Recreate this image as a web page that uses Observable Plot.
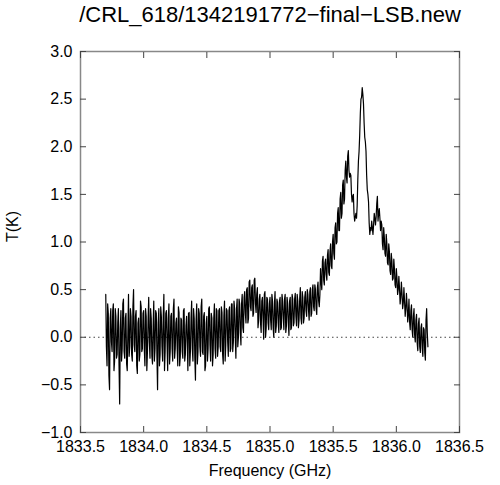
<!DOCTYPE html>
<html>
<head>
<meta charset="utf-8">
<script src="https://cdn.jsdelivr.net/npm/d3@7"></script>
<script src="https://cdn.jsdelivr.net/npm/@observablehq/plot@0.6"></script>
<style>
  html, body { margin: 0; padding: 0; background: #fff; }
</style>
</head>
<body>
<div id="chart"></div>
<script>
const title = "/CRL_618/1342191772\u2212final\u2212LSB.new";
const xLabel = "Frequency (GHz)";
const yLabel = "T(K)";
const xTicks = [1833.5, 1834.0, 1834.5, 1835.0, 1835.5, 1836.0, 1836.5];
const yTicks = [-1.0, -0.5, 0.0, 0.5, 1.0, 1.5, 2.0, 2.5, 3.0];

// spectral channels (GHz): main channels 0.01 GHz apart starting at freqStart,
// plus half-step channels in between
const freqStart = 1833.70;
const freqStep = 0.01;
// antenna temperature at the main channels (K)
const temps = [
  0.45, -0.30, 0.25, -0.55, 0.30, -0.15, 0.35, -0.25, 0.22, -0.18,
  0.30, -0.70, 0.28, -0.12, 0.40, -0.22, 0.25, -0.35, 0.45, -0.10,
  0.22, -0.25, 0.50, -0.15, 0.28, -0.38, 0.20, -0.18, 0.32, -0.12,
  0.28, -0.30, 0.22, -0.15, 0.42, -0.22, 0.20, -0.28, 0.38, -0.12,
  0.25, -0.55, 0.30, -0.18, 0.22, -0.25, 0.45, -0.15, 0.28, -0.35,
  0.35, -0.15, 0.25, -0.25, 0.40, -0.12, 0.20, -0.30, 0.26, -0.20,
  0.18, -0.22, 0.30, -0.18, 0.22, -0.35, 0.26, -0.15, 0.38, -0.25,
  0.20, -0.45, 0.35, -0.15, 0.25, -0.20, 0.40, -0.18, 0.26, -0.30,
  0.22, -0.12, 0.32, -0.25, 0.20, -0.18, 0.35, -0.22, 0.28, -0.10,
  0.30, -0.15, 0.26, -0.28, 0.38, -0.08, 0.28, -0.20, 0.32, -0.12,
  0.35, -0.05, 0.30, -0.22, 0.40, 0.00, 0.35, -0.08, 0.45, 0.05,
  0.48, 0.15, 0.52, 0.20, 0.60, 0.28, 0.55, 0.25, 0.62, 0.26,
  0.52, 0.18, 0.45, 0.05, 0.42, -0.02, 0.48, 0.10, 0.40, 0.08,
  0.42, 0.08, 0.38, 0.00, 0.48, 0.12, 0.36, 0.05, 0.42, 0.10,
  0.38, 0.08, 0.45, 0.12, 0.35, 0.02, 0.42, 0.10, 0.40, 0.15,
  0.46, 0.12, 0.38, 0.18, 0.52, 0.14, 0.42, 0.20, 0.48, 0.22,
  0.45, 0.18, 0.52, 0.25, 0.55, 0.28, 0.50, 0.24, 0.58, 0.32,
  0.72, 0.50, 0.85, 0.55, 0.82, 0.60, 0.92, 0.65, 0.98, 0.72,
  1.08, 0.82, 1.20, 1.00, 1.36, 1.12, 1.52, 1.30, 1.65, 1.45,
  1.85, 1.62, 1.96, 1.68, 1.70, 1.42, 1.50, 1.22, 1.30, 1.38,
  1.85, 2.12, 2.50, 2.62, 2.45, 2.10, 1.95, 1.55, 1.42, 1.08,
  1.12, 1.15, 1.18, 1.25, 1.26, 1.48, 1.30, 1.25, 1.22, 0.98,
  1.15, 0.88, 1.08, 0.78, 0.98, 0.70, 0.88, 0.60, 0.82, 0.55,
  0.72, 0.45, 0.64, 0.35, 0.58, 0.30, 0.52, 0.22, 0.46, 0.16,
  0.40, 0.08, 0.34, 0.00, 0.30, -0.05, 0.24, -0.14, 0.20, -0.16,
  0.14, -0.20, 0.08, -0.24, 0.30, -0.10
];
// antenna temperature at the half-step channels (K)
const tempsMid = [
  -0.10, 0.35, -0.40, 0.20, -0.05, 0.28, -0.35, 0.30, -0.22, 0.15,
  -0.30, 0.10, -0.25, 0.35, -0.15, 0.20, -0.28, 0.05, -0.20, 0.30,
  -0.18, 0.32, -0.08, 0.22, -0.30, 0.15, -0.25, 0.38, -0.15, 0.25,
  -0.12, 0.30, -0.35, 0.18, -0.05, 0.30, -0.20, 0.12, -0.25, 0.28,
  -0.20, 0.15, -0.30, 0.32, -0.10, 0.22, -0.35, 0.25, -0.05, 0.20,
  -0.28, 0.22, -0.12, 0.30, -0.22, 0.15, -0.10, 0.32, -0.30, 0.20,
  -0.15, 0.28, -0.25, 0.12, -0.05, 0.25, -0.30, 0.20, -0.12, 0.30,
  -0.22, 0.18, -0.28, 0.30, -0.10, 0.32, -0.15, 0.22, -0.35, 0.15,
  -0.25, 0.30, -0.08, 0.25, -0.30, 0.20, -0.12, 0.30, -0.20, 0.28,
  -0.10, 0.32, -0.18, 0.22, -0.25, 0.30, -0.05, 0.28, -0.15, 0.35,
  -0.15, 0.38, 0.00, 0.30, -0.10, 0.40, 0.05, 0.35, 0.10, 0.42,
  0.25, 0.50, 0.15, 0.58, 0.32, 0.52, 0.22, 0.60, 0.35, 0.45,
  0.10, 0.40, 0.15, 0.38, 0.20, 0.45, 0.00, 0.42, 0.15, 0.35,
  0.18, 0.45, 0.10, 0.35, 0.05, 0.40, 0.15, 0.38, 0.08, 0.45,
  0.20, 0.40, 0.05, 0.42, 0.15, 0.38, 0.08, 0.45, 0.12, 0.40,
  0.22, 0.45, 0.10, 0.40, 0.20, 0.48, 0.15, 0.42, 0.28, 0.50,
  0.28, 0.48, 0.22, 0.50, 0.32, 0.55, 0.30, 0.52, 0.38, 0.45,
  0.58, 0.80, 0.60, 0.78, 0.66, 0.86, 0.68, 0.90, 0.75, 1.00,
  0.88, 1.15, 0.98, 1.30, 1.12, 1.45, 1.25, 1.60, 1.40, 1.75,
  1.68, 1.90, 1.75, 1.72, 1.50, 1.48, 1.30, 1.26, 1.25, 1.65,
  1.95, 2.35, 2.52, 2.55, 2.25, 2.05, 1.70, 1.50, 1.20, 1.15,
  1.22, 1.08, 1.30, 1.18, 1.40, 1.22, 1.35, 1.12, 1.18, 0.92,
  1.05, 0.85, 0.98, 0.76, 0.90, 0.66, 0.80, 0.62, 0.72, 0.52,
  0.62, 0.50, 0.52, 0.42, 0.46, 0.36, 0.38, 0.30, 0.34, 0.24,
  0.16, 0.28, 0.08, 0.22, 0.02, 0.18, -0.06, 0.14, -0.10, 0.10,
  -0.12, 0.10, -0.16, 0.18, 0.05
];

const spectrum = [];
temps.forEach((t, i) => {
  spectrum.push({f: freqStart + i * freqStep, t});
  if (i < tempsMid.length) spectrum.push({f: freqStart + (i + 0.5) * freqStep, t: tempsMid[i]});
});
const fmt = d3.format(".1f");
const font = "'Liberation Sans', Arial, Helvetica, sans-serif";

const chart = Plot.plot({
  width: 500,
  height: 485,
  marginTop: 51,
  marginBottom: 53,
  marginLeft: 80,
  marginRight: 41,
  style: {fontFamily: font, fontSize: "16px", background: "#fff", color: "#000"},
  x: {domain: [1833.5, 1836.5]},
  y: {domain: [-1, 3]},
  marks: [
    Plot.ruleY([0], {stroke: "#444", strokeDasharray: "1.5,3", strokeWidth: 1}),
    Plot.line(spectrum, {x: "f", y: "t", stroke: "#000", strokeWidth: 1.2}),
    Plot.frame({stroke: "#888", strokeWidth: 1.5}),
    Plot.axisX({anchor: "bottom", ticks: xTicks, tickSize: -6, tickPadding: 14, tickFormat: fmt, fontSize: 16, stroke: "#444", label: null}),
    Plot.axisX({anchor: "top", ticks: xTicks, tickSize: -6, tickFormat: () => "", stroke: "#444", label: null}),
    Plot.axisY({anchor: "left", ticks: yTicks, tickSize: -6, tickPadding: 14, tickFormat: fmt, fontSize: 16, stroke: "#444", label: null}),
    Plot.axisY({anchor: "right", ticks: yTicks, tickSize: -6, tickFormat: () => "", stroke: "#444", label: null}),
    Plot.text([xLabel], {frameAnchor: "bottom", dy: 38, lineAnchor: "middle", fontSize: 16, fill: "#000"}),
    Plot.text([yLabel], {frameAnchor: "left", dx: -68, rotate: -90, lineAnchor: "middle", fontSize: 16, fill: "#000"}),
    Plot.text([title], {frameAnchor: "top", dy: -37, lineAnchor: "middle", fontSize: 22, fill: "#000"})
  ]
});
document.getElementById("chart").appendChild(chart);
</script>
</body>
</html>
